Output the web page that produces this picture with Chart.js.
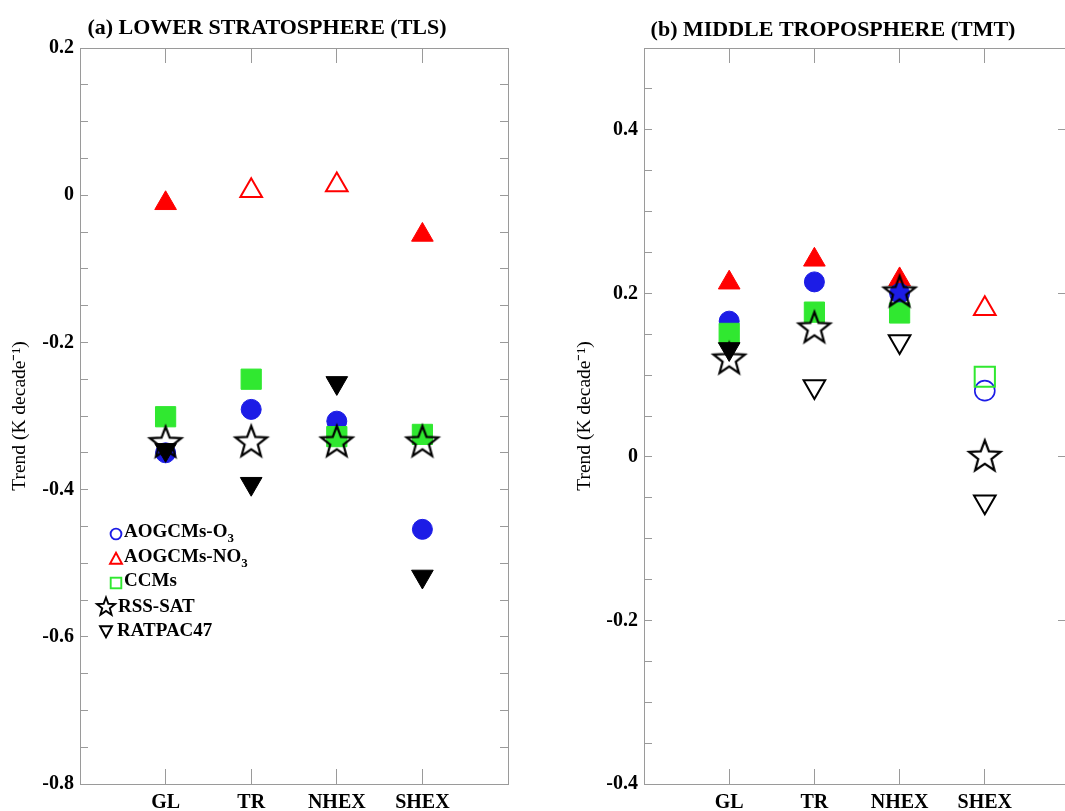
<!DOCTYPE html>
<html><head><meta charset="utf-8">
<script src="https://cdn.jsdelivr.net/npm/chart.js@4.4.1/dist/chart.umd.min.js"></script>
<style>
html,body{margin:0;padding:0;background:#fff;overflow:hidden;width:1065px;height:811px;position:relative;}
#c1{position:absolute;left:0;top:0;}
#c2{position:absolute;left:560px;top:0;}
.lgt{position:absolute;font:bold 19px "Liberation Serif",serif;line-height:24px;white-space:nowrap;color:#000;}
.lgt sub{font-size:0.68em;vertical-align:-0.35em;line-height:0;}
svg.mk{position:absolute;overflow:visible;}
</style></head><body>
<canvas id="c1" width="534" height="811"></canvas>
<canvas id="c2" width="546" height="811"></canvas>
<div id="legend"></div>
<script>
// ---------- data ----------
const categories = ['GL', 'TR', 'NHEX', 'SHEX'];
const seriesNames = ['AOGCMs-O₃', 'AOGCMs-NO₃', 'CCMs', 'RSS-SAT', 'RATPAC47'];
const yTitle = 'Trend (K decade⁻¹)';

// (a) Lower stratosphere (TLS)
const tlsTitle = '(a) LOWER STRATOSPHERE (TLS)';
const tlsTickLabels = ['0.2', '0', '-0.2', '-0.4', '-0.6', '-0.8'];
const tlsO3     = [-0.350, -0.291, -0.307, -0.454];
const tlsNO3    = [-0.011,  0.006,  0.014, -0.054];
const tlsCCM    = [-0.301, -0.250, -0.328, -0.325];
const tlsRSS    = [-0.337, -0.336, -0.336, -0.336];
const tlsRATPAC = [-0.346, -0.392, -0.255, -0.518];
const tlsO3Filled     = [true, true, true, true];
const tlsNO3Filled    = [true, false, false, true];
const tlsCCMFilled    = [true, true, true, true];
const tlsRATPACFilled = [true, true, true, true];

// (b) Middle troposphere (TMT)
const tmtTitle = '(b) MIDDLE TROPOSPHERE (TMT)';
const tmtTickLabels = ['0.4', '0.2', '0', '-0.2', '-0.4'];
const tmtO3     = [0.166, 0.214, 0.200, 0.081];
const tmtNO3    = [0.213, 0.241, 0.217, 0.181];
const tmtCCM    = [0.151, 0.177, 0.176, 0.098];
const tmtRSS    = [0.119, 0.157, 0.201, 0.000];
const tmtRATPAC = [0.132, 0.086, 0.141, -0.055];
const tmtO3Filled     = [true, true, true, false];
const tmtNO3Filled    = [true, true, true, false];
const tmtCCMFilled    = [true, true, true, false];
const tmtRATPACFilled = [true, false, false, false];

// ---------- styling ----------
const BLUE = '#1c1ce6', RED = '#ff0000', GREEN = '#30e830', BLACK = '#000000', AXIS = '#9a9a9a';
const SERIF = '"Liberation Serif", "Times New Roman", serif';

function makeStar(R, ratio, lw, color) {
  const s = Math.ceil(2 * R + 2 * lw + 4) & ~1;
  const c = document.createElement('canvas');
  c.width = s; c.height = s;
  const g = c.getContext('2d');
  g.translate(s / 2, s / 2);
  g.beginPath();
  for (let i = 0; i < 10; i++) {
    const r = i % 2 === 0 ? R : R * ratio;
    const a = -Math.PI / 2 + i * Math.PI / 5;
    g.lineTo(r * Math.cos(a), r * Math.sin(a));
  }
  g.closePath();
  g.lineWidth = lw; g.strokeStyle = color; g.lineJoin = 'miter';
  g.stroke();
  return c;
}
const starImg = makeStar(16.5, 0.42, 2.2, BLACK);

function pts(values) { return values.map((v, i) => ({ x: i + 1, y: v })); }
function fills(filled, color) { return filled.map(f => f ? color : 'rgba(0,0,0,0)'); }
function bws(filled, w) { return filled.map(f => f ? 1 : w); }

function datasets(o3, o3F, no3, no3F, ccm, ccmF, rss, rat, ratF) {
  return [
    { label: seriesNames[0], data: pts(o3), pointStyle: 'circle', pointRadius: 10,
      pointBackgroundColor: fills(o3F, BLUE), pointBorderColor: BLUE, pointBorderWidth: bws(o3F, 1.6), order: 3 },
    { label: seriesNames[1], data: pts(no3), pointStyle: 'triangle', pointRadius: 12.5,
      pointBackgroundColor: fills(no3F, RED), pointBorderColor: RED, pointBorderWidth: bws(no3F, 2), order: 4 },
    { label: seriesNames[2], data: pts(ccm), pointStyle: 'rect', pointRadius: 14.3,
      pointBackgroundColor: fills(ccmF, GREEN), pointBorderColor: GREEN, pointBorderWidth: bws(ccmF, 2), order: 2 },
    { label: seriesNames[3], data: pts(rss), pointStyle: starImg, pointRadius: 10,
      pointBackgroundColor: 'rgba(0,0,0,0)', pointBorderColor: BLACK, order: 0 },
    { label: seriesNames[4], data: pts(rat), pointStyle: 'triangle', pointRotation: 180, pointRadius: 12.5,
      pointBackgroundColor: fills(ratF, BLACK), pointBorderColor: BLACK, pointBorderWidth: bws(ratF, 2), order: 1 }
  ];
}

function scalesFor(min, max, tickLabels, yWidth, y2Width, titlePad, rightMajorOnly) {
  const tickFont = { family: SERIF, size: 20, weight: 'bold' };
  const grid = { drawOnChartArea: false, drawTicks: true, color: AXIS, lineWidth: 1 };
  const border = { display: true, color: AXIS, width: 1 };
  const labelFor = v => {
    const m = tickLabels.find(t => Math.abs(Number(t) - v) < 1e-6);
    return m === undefined ? '' : m;
  };
  const isMajor = v => Math.abs(v / 0.2 - Math.round(v / 0.2)) < 1e-6;
  return {
    x: { type: 'linear', position: 'bottom', min: 0, max: 5,
      ticks: { stepSize: 1, autoSkip: false, maxRotation: 0, padding: 22, font: tickFont, color: '#000',
        callback: v => categories[Math.round(v) - 1] || '' },
      grid: { ...grid, tickLength: -15 }, border,
      afterFit: s => { s.height = 27; } },
    x2: { type: 'linear', position: 'top', min: 0, max: 5,
      ticks: { stepSize: 1, autoSkip: false, display: false },
      grid: { ...grid, tickLength: -15 }, border,
      afterFit: s => { s.height = 0; } },
    y: { type: 'linear', position: 'left', min, max,
      ticks: { stepSize: 0.05, autoSkip: false, padding: 14, font: tickFont, color: '#000', callback: labelFor },
      grid: { ...grid, tickLength: -8 }, border,
      title: { display: true, text: yTitle, color: '#000', font: { family: SERIF, size: 19.5 }, padding: { top: titlePad - 0.8, bottom: 0 } },
      afterFit: s => { s.width = yWidth; } },
    y2: { type: 'linear', position: 'right', min, max,
      ticks: { stepSize: 0.05, autoSkip: false, display: false },
      grid: { ...grid, tickLength: rightMajorOnly ? -12 : -8,
        tickColor: c => (!rightMajorOnly || (c.tick && isMajor(c.tick.value))) ? AXIS : 'rgba(0,0,0,0)' },
      border,
      afterFit: s => { s.width = y2Width; } }
  };
}

function makeChart(id, title, titlePadTop, titlePadBottom, ds, scales) {
  return new Chart(document.getElementById(id), {
    type: 'scatter',
    data: { datasets: ds },
    options: {
      responsive: false, animation: false, events: [],
      layout: { padding: 0 },
      plugins: {
        legend: { display: false }, tooltip: { enabled: false },
        title: { display: true, text: title, color: '#000', font: { family: SERIF, size: 22, weight: 'bold' },
          padding: { top: titlePadTop, bottom: titlePadBottom } }
      },
      scales
    }
  });
}

makeChart('c1', tlsTitle, 14.8, 6.8,
  datasets(tlsO3, tlsO3Filled, tlsNO3, tlsNO3Filled, tlsCCM, tlsCCMFilled, tlsRSS, tlsRATPAC, tlsRATPACFilled),
  scalesFor(-0.8, 0.2, tlsTickLabels, 80, 26, 9.2, false));

makeChart('c2', tmtTitle, 16.8, 4.8,
  datasets(tmtO3, tmtO3Filled, tmtNO3, tmtNO3Filled, tmtCCM, tmtCCMFilled, tmtRSS, tmtRATPAC, tmtRATPACFilled),
  scalesFor(-0.4, 0.5, tmtTickLabels, 84, 36, 14.2, true));

// ---------- legend (HTML, inside panel a) ----------
const legendRows = [
  { mk: 'circle',  color: BLUE,  mx: 115.8, my: 534,   tx: 124, cy: 531.5 },
  { mk: 'tri',     color: RED,   mx: 116.2, my: 558.5, tx: 124, cy: 556 },
  { mk: 'square',  color: GREEN, mx: 116.2, my: 582.5, tx: 124, cy: 580.5 },
  { mk: 'star',    color: BLACK, mx: 105.5, my: 606.5, tx: 118, cy: 606 },
  { mk: 'tridown', color: BLACK, mx: 106,   my: 630.5, tx: 117, cy: 630 }
];
function markerSvg(r) {
  let shape = '';
  if (r.mk === 'circle') shape = `<circle cx="0" cy="0" r="5.4" fill="none" stroke="${r.color}" stroke-width="1.9"/>`;
  if (r.mk === 'square') shape = `<rect x="-5.3" y="-5.3" width="10.6" height="10.6" fill="none" stroke="${r.color}" stroke-width="1.9"/>`;
  if (r.mk === 'tri') shape = `<polygon points="0,-6.3 6,4.8 -6,4.8" fill="none" stroke="${r.color}" stroke-width="1.9"/>`;
  if (r.mk === 'tridown') shape = `<polygon points="0,6.3 6,-4.8 -6,-4.8" fill="none" stroke="${r.color}" stroke-width="1.9"/>`;
  if (r.mk === 'star') {
    const p = [];
    for (let i = 0; i < 10; i++) {
      const rr = i % 2 === 0 ? 9.5 : 9.5 * 0.42;
      const a = -Math.PI / 2 + i * Math.PI / 5;
      p.push((rr * Math.cos(a)).toFixed(2) + ',' + (rr * Math.sin(a)).toFixed(2));
    }
    shape = `<polygon points="${p.join(' ')}" fill="none" stroke="${r.color}" stroke-width="1.9" stroke-linejoin="miter"/>`;
  }
  return `<svg class="mk" width="1" height="1" style="left:${r.mx}px;top:${r.my}px">${shape}</svg>`;
}
let html = '';
legendRows.forEach((r, i) => {
  const name = seriesNames[i].replace('₃', '<sub>3</sub>');
  html += markerSvg(r);
  html += `<div class="lgt" style="left:${r.tx}px;top:${(r.cy - 12.1).toFixed(1)}px">${name}</div>`;
});
document.getElementById('legend').innerHTML = html;
</script>
</body></html>
